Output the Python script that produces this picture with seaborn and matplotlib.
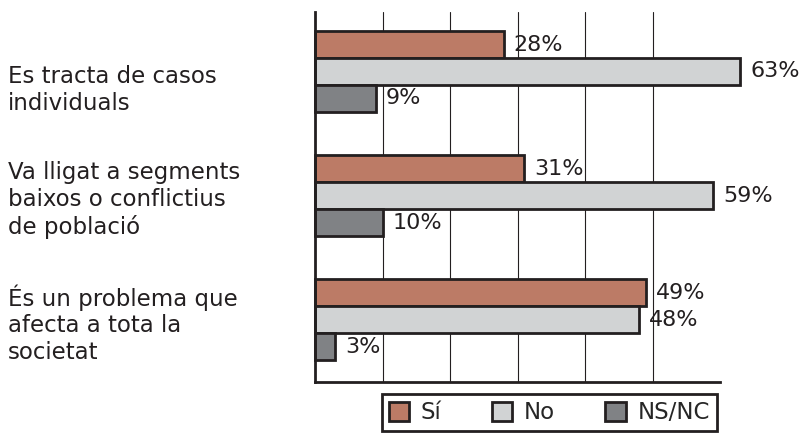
import pandas as pd
import matplotlib.pyplot as plt
import matplotlib.transforms as mtransforms
import seaborn as sns

categories = [
    "Es tracta de casos\nindividuals",
    "Va lligat a segments\nbaixos o conflictius\nde població",
    "És un problema que\nafecta a tota la\nsocietat",
]
answers = ["Sí", "No", "NS/NC"]
si_values = [28, 31, 49]
no_values = [63, 59, 48]
nsnc_values = [9, 10, 3]

colors = ["#bc7b66", "#d1d3d4", "#808285"]
edge = "#231f20"


def build_frame():
    rows = []
    for i, cat in enumerate(categories):
        for ans, vals in zip(answers, [si_values, no_values, nsnc_values]):
            rows.append({"cat": cat, "answer": ans, "value": vals[i]})
    return pd.DataFrame(rows)


def make_chart():
    df = build_frame()
    sns.set_style("white")
    plt.rcParams["font.family"] = ["DejaVu Sans"]

    fig = plt.figure(figsize=(8.1, 4.38), dpi=100)
    ax = fig.add_axes([0.389, 0.128, 0.5, 0.845])

    sns.barplot(data=df, y="cat", x="value", hue="answer", order=categories,
                hue_order=answers, palette=colors, saturation=1, width=0.65,
                orient="h", edgecolor=edge, linewidth=2, legend=False, ax=ax)

    for bars in ax.containers:
        for b in bars:
            b.set_clip_on(False)
        texts = ax.bar_label(bars, labels=[f"{v:.0f}%" for v in bars.datavalues],
                             padding=7, fontsize=16, color=edge)
        for t in texts:
            t.set_annotation_clip(False)

    ax.set_xlim(0, 60)
    ax.set_ylim(2.5, -0.48)
    ax.set_xticks([10, 20, 30, 40, 50])
    ax.xaxis.grid(True, color=edge, linewidth=0.8)
    ax.set_axisbelow(True)
    ax.tick_params(axis="x", length=0, labelbottom=False)
    ax.tick_params(axis="y", length=0, pad=221, labelsize=16.5, labelcolor=edge)
    for lab in ax.get_yticklabels():
        lab.set_horizontalalignment("left")
        lab.set_linespacing(1.2)
    # first label sits a bit lower in the original
    first = ax.get_yticklabels()[0]
    first.set_transform(first.get_transform() +
                        mtransforms.ScaledTranslation(0, -14 / 100, fig.dpi_scale_trans))
    ax.set_xlabel("")
    ax.set_ylabel("")

    sns.despine(ax=ax, top=True, right=True)
    for side in ["left", "bottom"]:
        ax.spines[side].set_color(edge)
        ax.spines[side].set_linewidth(2)

    handles = [plt.Rectangle((0, 0), 1, 1, facecolor=c, edgecolor=edge, linewidth=2)
               for c in colors]
    leg = fig.legend(handles, answers, loc="lower center", ncol=3,
                     bbox_to_anchor=(0.678, 0.0), fontsize=16.5, frameon=True,
                     fancybox=False, framealpha=1, handlelength=0.9, handleheight=0.9,
                     handletextpad=0.5, columnspacing=2.2, borderpad=0.3,
                     borderaxespad=0.3)
    leg.get_frame().set_edgecolor(edge)
    leg.get_frame().set_linewidth(2)

    fig.savefig("out.png", dpi=100)
    plt.close(fig)


if __name__ == "__main__":
    make_chart()
